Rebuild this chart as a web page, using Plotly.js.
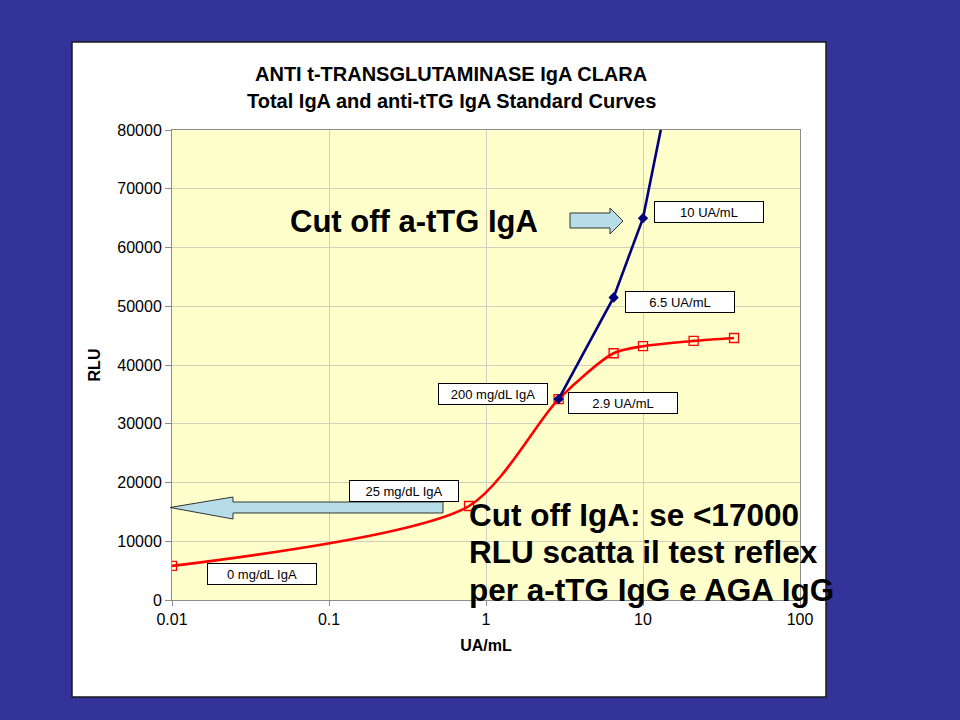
<!DOCTYPE html>
<html>
<head>
<meta charset="utf-8">
<script src="https://cdn.plot.ly/plotly-3.0.1.min.js"></script>
<style>html,body{margin:0;padding:0;background:#333399;}#chart{width:960px;height:720px;}</style>
</head>
<body>
<div id="chart"></div>
<script>
// ---- data ----
const totalIgA_x = [0.01, 0.78, 2.9, 6.5, 10, 21, 38];
const totalIgA_y = [5800, 16000, 34200, 42000, 43200, 44100, 44600];
const attg_x = [2.9, 6.5, 10, 13.2];
const attg_y = [34200, 51500, 65000, 81000];
const xTickVals = [0.01, 0.1, 1, 10, 100];
const xTickText = ['0.01', '0.1', '1', '10', '100'];
const yTickVals = [0, 10000, 20000, 30000, 40000, 50000, 60000, 70000, 80000];
const yTickText = ['0', '10000', '20000', '30000', '40000', '50000', '60000', '70000', '80000'];

const titleLines = ['ANTI t-TRANSGLUTAMINASE IgA CLARA', 'Total IgA and anti-tTG IgA Standard Curves'];
const pointLabels = ['10 UA/mL', '6.5 UA/mL', '200 mg/dL IgA', '2.9 UA/mL', '25 mg/dL IgA', '0 mg/dL IgA'];
const cutoffTTG = 'Cut off a-tTG IgA';
const cutoffIgA = ['Cut off IgA: se <17000', 'RLU scatta il test reflex', 'per a-tTG IgG e AGA IgG'];

// ---- layout helpers (pixel -> paper for decorations) ----
const L = 172, R = 800, T = 130, B = 600;
const px = x => (x - L) / (R - L);
const py = y => (B - y) / (B - T);
const FONT = '"Liberation Sans", Arial, sans-serif';

function path(points) {
  return 'M' + points.map(p => px(p[0]).toFixed(5) + ',' + py(p[1]).toFixed(5)).join(' L') + ' Z';
}

const traces = [
  {
    x: totalIgA_x, y: totalIgA_y, type: 'scatter', mode: 'lines+markers',
    line: {color: '#FF0000', width: 2.6, shape: 'spline', smoothing: 0.75},
    marker: {symbol: 'square-open', size: 9, color: '#FF0000', line: {width: 1.3, color: '#FF0000'}},
    name: 'Total IgA'
  },
  {
    x: attg_x, y: attg_y, type: 'scatter', mode: 'lines+markers',
    line: {color: '#000080', width: 2.6},
    marker: {symbol: 'diamond', size: 8, color: '#000080'},
    name: 'anti-tTG IgA'
  }
];

const boxPos = [[709, 212], [680, 301.5], [493, 393.5], [622.5, 403], [403.5, 490.5], [261.5, 573.5]];
const annotations = [];
titleLines.forEach((t, i) => annotations.push({
  text: '<b>' + t + '</b>', xref: 'paper', yref: 'paper', x: px(451), y: py(i === 0 ? 74 : 100.5),
  xanchor: 'center', yanchor: 'middle', showarrow: false, font: {family: FONT, size: 20, color: '#000'}
}));
pointLabels.forEach((t, i) => annotations.push({
  text: t, xref: 'paper', yref: 'paper', x: px(boxPos[i][0]), y: py(boxPos[i][1]),
  xanchor: 'center', yanchor: 'middle', showarrow: false,
  width: 104, height: 16, borderpad: 2, bgcolor: '#FFFFFF', bordercolor: '#000000', borderwidth: 1,
  font: {family: FONT, size: 13, color: '#000'}
}));
annotations.push({
  text: '<b>' + cutoffTTG + '</b>', xref: 'paper', yref: 'paper', x: px(288), y: py(221),
  xanchor: 'left', yanchor: 'middle', showarrow: false, font: {family: FONT, size: 31, color: '#000'}
});
[514.5, 552, 589.5].forEach((yy, i) => annotations.push({
  text: '<b>' + cutoffIgA[i] + '</b>', xref: 'paper', yref: 'paper', x: px(467), y: py(yy),
  xanchor: 'left', yanchor: 'middle', showarrow: false, font: {family: FONT, size: 31.5, color: '#000'}
}));

const shapes = [
  {type: 'rect', xref: 'paper', yref: 'paper', layer: 'below',
   x0: px(72), x1: px(826), y0: py(697), y1: py(42),
   fillcolor: '#FFFFFF', line: {color: '#1a1a1a', width: 1.5}},
  {type: 'rect', xref: 'paper', yref: 'paper', layer: 'below',
   x0: 0, x1: 1, y0: 0, y1: 1, fillcolor: '#FFFFCC', line: {width: 0}},
  {type: 'path', xref: 'paper', yref: 'paper', layer: 'above',
   path: path([[570, 213], [610, 213], [610, 208], [623, 221], [610, 234], [610, 228], [570, 228]]),
   fillcolor: '#B7DEE8', line: {color: '#333333', width: 1}},
  {type: 'path', xref: 'paper', yref: 'paper', layer: 'above',
   path: path([[170, 507.5], [233, 497], [233, 502], [443, 502], [443, 513], [233, 513], [233, 519]]),
   fillcolor: '#B7DEE8', line: {color: '#333333', width: 1}}
];

const layout = {
  width: 960, height: 720,
  margin: {l: L, r: 960 - R, t: T, b: 720 - B, pad: 0},
  paper_bgcolor: '#333399',
  plot_bgcolor: 'rgba(0,0,0,0)',
  showlegend: false,
  font: {family: FONT, color: '#000'},
  xaxis: {
    type: 'log', range: [-2, 2], tickvals: xTickVals, ticktext: xTickText,
    showgrid: true, gridcolor: '#CFCFC0', gridwidth: 1,
    showline: true, linecolor: '#8C8C8C', linewidth: 1, mirror: true,
    ticks: 'outside', ticklen: 5, tickcolor: '#8C8C8C',
    tickfont: {family: FONT, size: 16, color: '#000'},
    zeroline: false,
    title: {text: '<b>UA/mL</b>', font: {family: FONT, size: 16, color: '#000'}, standoff: 12}
  },
  yaxis: {
    range: [0, 80000], tickvals: yTickVals, ticktext: yTickText,
    showgrid: true, gridcolor: '#CFCFC0', gridwidth: 1,
    showline: true, linecolor: '#8C8C8C', linewidth: 1, mirror: true,
    ticks: 'outside', ticklen: 6, tickcolor: '#8C8C8C',
    tickfont: {family: FONT, size: 16, color: '#000'},
    zeroline: false, automargin: false,
    title: {text: '<b>RLU</b>', font: {family: FONT, size: 16, color: '#000'}, standoff: 12}
  },
  annotations: annotations,
  shapes: shapes
};

Plotly.newPlot('chart', traces, layout, {displayModeBar: false, staticPlot: true});
</script>
</body>
</html>
